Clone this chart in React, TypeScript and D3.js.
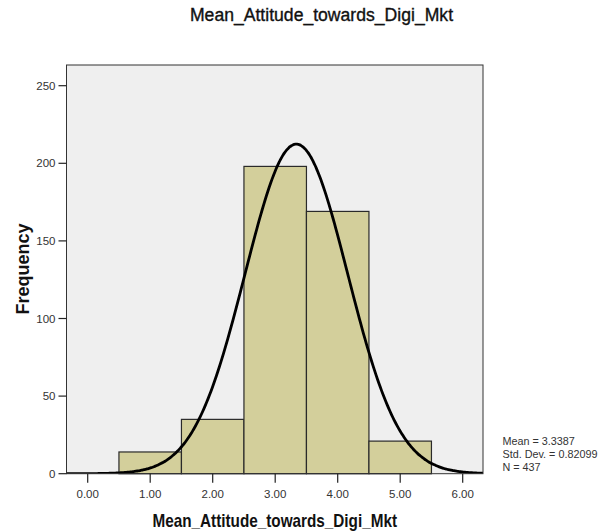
import React from "react";
import * as d3 from "d3";

const binStarts = [0.5, 1.5, 2.5, 3.5, 4.5];
const binWidth = 1;
const frequencies = [14, 35, 198, 169, 21];
const xTicks = [0, 1, 2, 3, 4, 5, 6];
const yTicks = [0, 50, 100, 150, 200, 250];
const mean = 3.3387;
const stdDev = 0.82099;
const n = 437;
const statLines = ["Mean = 3.3387", "Std. Dev. = 0.82099", "N = 437"];
const titleText = "Mean_Attitude_towards_Digi_Mkt";

const W = 609;
const H = 532;
const L = 66.5;
const R = 483;
const T = 65;
const B = 473.7;

export default function App() {
  const x = d3.scaleLinear().domain([0, 6]).range([87.7, 462.7]);
  const y = d3.scaleLinear().domain([0, 250]).range([B, 85.7]);
  const xMin = x.invert(L);
  const xMax = x.invert(R);
  const pdf = (v: number) =>
    (n * binWidth) / (stdDev * Math.sqrt(2 * Math.PI)) *
    Math.exp(-0.5 * ((v - mean) / stdDev) ** 2);
  const pts: [number, number][] = d3.range(0, 301).map((i) => {
    const v = xMin + ((xMax - xMin) * i) / 300;
    return [v, pdf(v)];
  });
  const line = d3
    .line<[number, number]>()
    .x((d) => x(d[0]))
    .y((d) => y(d[1]))
    .curve(d3.curveBasis);
  const font = "'Liberation Sans', Arial, sans-serif";
  return (
    <svg
      width={W}
      height={H}
      style={{ position: "absolute", left: 0, top: 0, background: "#fff" }}
      fontFamily={font}
    >
      <text
        x={321.5}
        y={21}
        textAnchor="middle"
        fontSize={17.6}
        fill="#111"
        stroke="#111"
        strokeWidth={0.35}
      >
        {titleText}
      </text>
      <rect x={L} y={T} width={R - L} height={B - T} fill="#efefef" />
      <defs>
        <clipPath id="plotclip">
          <rect x={L} y={T} width={R - L} height={B - T} />
        </clipPath>
      </defs>
      {frequencies.map((f, i) => (
        <rect
          key={i}
          x={x(binStarts[i])}
          y={y(f)}
          width={x(binStarts[i] + binWidth) - x(binStarts[i])}
          height={B - y(f)}
          fill="#d3cf9b"
          stroke="#2a2a2a"
          strokeWidth={1.2}
        />
      ))}
      <path
        d={line(pts) || ""}
        fill="none"
        stroke="#000"
        strokeWidth={2.8}
        clipPath="url(#plotclip)"
      />
      <rect x={L} y={T} width={R - L} height={B - T} fill="none" stroke="#333" strokeWidth={1} />
      {yTicks.map((t) => (
        <g key={t}>
          <line x1={L - 8} x2={L} y1={y(t)} y2={y(t)} stroke="#222" strokeWidth={1.2} />
          <text
            x={L - 11}
            y={y(t)}
            dy="0.36em"
            textAnchor="end"
            fontSize={11.5}
            fill="#333"
          >
            {t}
          </text>
        </g>
      ))}
      {xTicks.map((t) => (
        <g key={t}>
          <line x1={x(t)} x2={x(t)} y1={B} y2={B + 9} stroke="#222" strokeWidth={1.2} />
          <text x={x(t)} y={498} textAnchor="middle" fontSize={11.5} fill="#333">
            {t.toFixed(2)}
          </text>
        </g>
      ))}
      <text
        x={152.5}
        y={526.5}
        fontSize={18.5}
        fontWeight="bold"
        fill="#111"
        textLength={244.5}
        lengthAdjust="spacingAndGlyphs"
      >
        {titleText}
      </text>
      <text
        transform={`translate(28.5, 269) rotate(-90)`}
        textAnchor="middle"
        fontSize={18}
        fontWeight="bold"
        fill="#111"
      >
        Frequency
      </text>
      {statLines.map((s, i) => (
        <text key={i} x={502.5} y={445 + i * 12.8} fontSize={10.8} fill="#333">
          {s}
        </text>
      ))}
    </svg>
  );
}
